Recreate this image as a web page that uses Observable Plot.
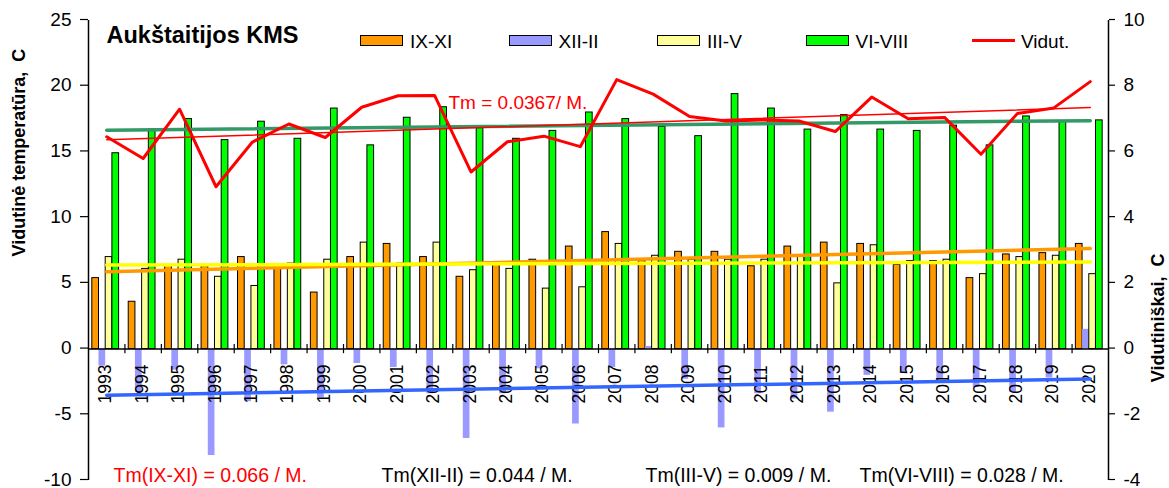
<!DOCTYPE html>
<html>
<head>
<meta charset="utf-8">
<script src="https://cdn.jsdelivr.net/npm/d3@7"></script>
<script src="https://cdn.jsdelivr.net/npm/@observablehq/plot@0.6"></script>
<style>
  body { margin: 0; background: #fff; font-family: "Liberation Sans", Arial, sans-serif; }
  #chart { position: relative; width: 1169px; height: 488px; }
  #legend { position: absolute; left: 360px; top: 35px; display: flex; font-size: 19px; color: #000; }
  .item { display: flex; align-items: center; width: 148.5px; height: 11px; }
  .sw { width: 43px; height: 11px; border: 1px solid #000; box-sizing: border-box; margin-right: 7px; }
  .ln { width: 43px; height: 3px; background: #FF0000; margin-right: 6px; }
  .lbl { position: relative; top: 1px; white-space: nowrap; }
</style>
</head>
<body>
<div id="chart"><div id="legend"></div></div>
<script>
// ---- data ----
const years = ["1993","1994","1995","1996","1997","1998","1999","2000","2001","2002",
               "2003","2004","2005","2006","2007","2008","2009","2010","2011","2012",
               "2013","2014","2015","2016","2017","2018","2019","2020"];
const seriesNames = ["IX-XI", "XII-II", "III-V", "VI-VIII"];
const lineName = "Vidut.";
const autumn = [5.4, 3.6, 6.4, 6.3, 7.0, 6.2, 4.3, 7.0, 8.0, 7.0,
                5.5, 6.5, 6.8, 7.8, 8.9, 6.7, 7.4, 7.4, 6.3, 7.8,
                8.1, 8.0, 6.4, 6.7, 5.4, 7.2, 7.3, 8.0];
const winter = [-1.3, -3.3, -1.6, -8.1, -4.0, -1.2, -3.7, -1.1, -1.4, -3.4,
                -6.8, -3.4, -1.5, -5.7, -1.4, 0.2, -2.3, -6.0, -3.4, -3.8,
                -4.8, -2.0, -1.8, -2.3, -2.9, -3.3, -2.2, 1.5];
const spring = [7.0, 6.1, 6.8, 5.5, 4.8, 6.5, 6.8, 8.1, 6.5, 8.1,
                6.0, 6.1, 4.6, 4.7, 8.0, 7.1, 6.8, 6.8, 6.8, 7.1,
                5.0, 7.9, 6.7, 6.8, 5.7, 7.0, 7.1, 5.7];
const summer = [14.9, 16.7, 17.5, 15.9, 17.3, 16.0, 18.3, 15.5, 17.6, 18.4,
                16.8, 16.0, 16.6, 18.0, 17.5, 16.9, 16.2, 19.4, 18.3, 16.7,
                17.8, 16.7, 16.6, 17.0, 15.5, 17.7, 17.3, 17.4];
const annual = [6.46, 5.80, 7.30, 4.94, 6.30, 6.85, 6.44, 7.36, 7.71, 7.72,
                5.39, 6.31, 6.48, 6.16, 8.20, 7.76, 7.08, 6.94, 6.97, 6.94,
                6.62, 7.67, 7.01, 7.05, 5.93, 7.17, 7.34, 8.14];
const leftTicks = [-10, -5, 0, 5, 10, 15, 20, 25];
const rightTicks = [-4, -2, 0, 2, 4, 6, 8, 10];
const title = "Aukštaitijos KMS";
const leftLabel = "Vidutinė temperatūra,\u00A0\u00A0C";
const rightLabel = "Vidutiniškai,\u00A0\u00A0C";
const annualNote = "Tm = 0.0367/ M.";
const trendNotes = ["Tm(IX-XI) = 0.066 / M.", "Tm(XII-II) = 0.044 / M.",
                    "Tm(III-V) = 0.009 / M.", "Tm(VI-VIII) = 0.028 / M."];

// ---- styles ----
const FONT = "'Liberation Sans', Arial, sans-serif";
const barFill = ["#FF9900", "#9999FF", "#FFFF99", "#00FF00"];
const barStroke = ["#000", "none", "#000", "#000"];
const trendColor = ["#FF9900", "#3366FF", "#FFFF00", "#339966"];
const noteColor = ["#FF0000", "black", "black", "black"];
const noteDx = [25, 293, 557, 771];

const leftDomain = [leftTicks[0], leftTicks[leftTicks.length - 1]];
const rightDomain = [rightTicks[0], rightTicks[rightTicks.length - 1]];
const k = (leftDomain[1] - leftDomain[0]) / (rightDomain[1] - rightDomain[0]);
const toLeft = r => leftDomain[0] + (r - rightDomain[0]) * k;
const fromLeft = l => rightDomain[0] + (l - leftDomain[0]) / k;

const W = 1169, H = 488, mL = 88, mR = 61, mT = 20, mB = 8;
const bw = (W - mL - mR) / years.length;
const lead = 3.8, barW = 6.7;

const seriesValues = [autumn, winter, spring, summer];
const rows = seriesValues.map(vals => years.map((y, i) => ({year: y, v: vals[i]})));

function trend(vals) {
  const n = vals.length;
  const xs = vals.map((_, i) => i);
  const mx = d3.mean(xs), my = d3.mean(vals);
  const b = d3.sum(xs, (x, i) => (x - mx) * (vals[i] - my)) / d3.sum(xs, x => (x - mx) ** 2);
  const a = my - b * mx;
  return [{year: years[0], v: a}, {year: years[n - 1], v: a + b * (n - 1)}];
}

const barMarks = rows.map((data, s) => Plot.barY(data, {
  x: "year", y: "v", fill: barFill[s], stroke: barStroke[s], strokeWidth: 1,
  insetLeft: lead + s * barW, insetRight: bw - lead - (s + 1) * barW
}));

const trendMarks = [0, 2, 1, 3].map(s => Plot.line(trend(seriesValues[s]), {
  x: "year", y: "v", stroke: trendColor[s], strokeWidth: 3.5
}));

const noteMarks = trendNotes.map((t, i) => Plot.text([t], {
  frameAnchor: "top-left", dx: noteDx[i], dy: 448, fontSize: 19.5,
  textAnchor: "start", fill: noteColor[i]
}));

const annualRows = years.map((y, i) => ({year: y, v: toLeft(annual[i])}));
const annualTrend = trend(annual).map(d => ({year: d.year, v: toLeft(d.v)}));

const chart = Plot.plot({
  width: W, height: H,
  marginLeft: mL, marginRight: mR, marginTop: mT, marginBottom: mB,
  style: {fontFamily: FONT, background: "white", color: "black", overflow: "visible"},
  x: {type: "band", domain: years, padding: 0, round: false, axis: null},
  y: {domain: leftDomain, axis: null},
  marks: [
    ...barMarks,
    Plot.ruleY([0], {stroke: "black", strokeWidth: 1.5}),
    Plot.ruleX(years.slice(1), {y1: -0.35, y2: 0.35, dx: -bw / 2, stroke: "black", strokeWidth: 1.2}),
    Plot.ruleX([years[0]], {y1: leftDomain[0], y2: leftDomain[1], dx: -bw / 2, stroke: "black", strokeWidth: 1.5}),
    Plot.ruleX([years[years.length - 1]], {y1: leftDomain[0], y2: leftDomain[1], dx: bw / 2, stroke: "black", strokeWidth: 1.5}),
    Plot.axisY({anchor: "left", ticks: leftTicks, tickFormat: d => String(d), tickSize: 8, tickPadding: 9, fontSize: 19, label: null, strokeWidth: 1.2, dy: -1}),
    Plot.axisY({anchor: "right", ticks: rightTicks.map(toLeft), tickFormat: d => String(Math.round(fromLeft(d))), tickSize: 6, tickPadding: 9, fontSize: 19, label: null, strokeWidth: 1.2, dy: -1}),
    Plot.text(years, {x: d => d, y: 0, text: d => d, rotate: -90, textAnchor: "middle", dy: 35, dx: -1, fontSize: 17.5, fill: "black"}),
    ...trendMarks,
    Plot.line(annualTrend, {x: "year", y: "v", stroke: "#FF0000", strokeWidth: 1.5}),
    Plot.line(annualRows, {x: "year", y: "v", stroke: "#FF0000", strokeWidth: 3}),
    Plot.text([title], {frameAnchor: "top-left", dx: 18, dy: 6, fontSize: 23.5, fontWeight: "bold", fill: "black", textAnchor: "start"}),
    Plot.text([annualNote], {frameAnchor: "top-left", dx: 360, dy: 75, fontSize: 19, fill: "#FF0000", textAnchor: "start"}),
    ...noteMarks,
    Plot.text([leftLabel], {frameAnchor: "left", rotate: -90, dx: -69, dy: 6, fontSize: 18, fontWeight: "bold", fill: "black"}),
    Plot.text([rightLabel], {frameAnchor: "right", rotate: -90, dx: 50, dy: 3, fontSize: 18, fontWeight: "bold", fill: "black"})
  ]
});

document.getElementById("chart").prepend(chart);

// legend
const legend = d3.select("#legend");
seriesNames.forEach((name, s) => {
  const it = legend.append("div").attr("class", "item");
  it.append("div").attr("class", "sw").style("background", barFill[s]);
  it.append("span").attr("class", "lbl").text(name);
});
const li = legend.append("div").attr("class", "item").style("margin-left", "18px");
li.append("div").attr("class", "ln");
li.append("span").attr("class", "lbl").text(lineName);
</script>
</body>
</html>
